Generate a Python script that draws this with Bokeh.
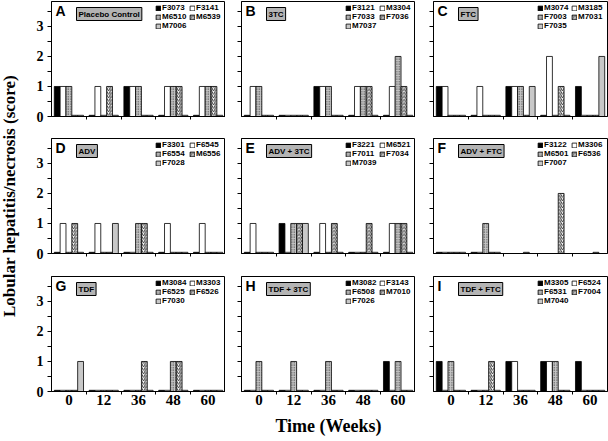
import numpy as np
from bokeh.plotting import figure
from bokeh.layouts import gridplot, row
from bokeh.models import Range1d, FixedTicker, Label, Legend, LegendItem, ColumnDataSource
from bokeh.core.properties import value
from bokeh.embed import file_html
from bokeh.resources import INLINE

# ---------------- data ----------------
weeks = ["0", "12", "36", "48", "60"]

A_group = "Placebo Control"
A_animals = ["F3073", "F3141", "M6510", "M6539", "M7006"]
A_scores = [[1, 0, 1, 0, 0], [1, 1, 1, 1, 1], [1, 0, 1, 1, 1], [0, 1, 0, 1, 1], [0, 0, 0, 0, 0]]

B_group = "3TC"
B_animals = ["F3121", "M3304", "F7033", "F7036", "M7037"]
B_scores = [[0, 0, 1, 0, 0], [1, 0, 1, 1, 1], [1, 0, 1, 1, 2], [0, 0, 0, 1, 1], [0, 0, 0, 0, 0]]

C_group = "FTC"
C_animals = ["M3074", "M3185", "F7003", "M7031", "F7035"]
C_scores = [[1, 0, 1, 0, 1], [1, 1, 1, 2, 0], [0, 0, 1, 0, 0], [0, 0, 0, 1, 0], [0, 0, 1, 0, 2]]

D_group = "ADV"
D_animals = ["F3301", "F6545", "F6554", "M6556", "F7028"]
D_scores = [[0, 0, 0, 0, 0], [1, 1, 0, 1, 1], [0, 0, 1, 0, 0], [1, 0, 1, 0, 0], [0, 1, 0, 0, 0]]

E_group = "ADV + 3TC"
E_animals = ["F3221", "M6521", "F7011", "F7034", "M7039"]
E_scores = [[0, 1, 0, 0, 0], [1, 0, 1, 0, 1], [0, 1, 0, 0, 1], [0, 1, 1, 1, 1], [0, 1, 0, 0, 0]]

F_group = "ADV + FTC"
F_animals = ["F3122", "M3306", "M6501", "F6536", "F7007"]
F_scores = [[0, 0, None, None, None], [0, 0, None, None, None], [0, 1, None, None, None],
            [0, 0, 0, 2, 0], [0, 0, None, None, None]]

G_group = "TDF"
G_animals = ["M3084", "M3303", "F6525", "F6526", "F7030"]
G_scores = [[0, 0, 0, 0, 0], [0, 0, 0, 0, 0], [0, 0, 0, 1, 0], [0, 0, 1, 1, 0], [1, 0, 0, 0, 0]]

H_group = "TDF + 3TC"
H_animals = ["M3082", "F3143", "F6508", "M7010", "F7026"]
H_scores = [[0, 0, 0, 0, 1], [0, 0, 0, 0, 0], [1, 1, 1, 0, 1], [0, 0, 0, 0, 0], [0, 0, 0, 0, 0]]

I_group = "TDF + FTC"
I_animals = ["M3305", "F6524", "F6531", "F7004", "M7040"]
I_scores = [[1, 0, 1, 1, 1], [0, 0, 1, 1, 0], [1, 0, 0, 1, 0], [0, 1, 0, 0, 0], [0, 0, 0, 0, 0]]

panels = [
    ("A", A_group, A_animals, A_scores), ("B", B_group, B_animals, B_scores), ("C", C_group, C_animals, C_scores),
    ("D", D_group, D_animals, D_scores), ("E", E_group, E_animals, E_scores), ("F", F_group, F_animals, F_scores),
    ("G", G_group, G_animals, G_scores), ("H", H_group, H_animals, H_scores), ("I", I_group, I_animals, I_scores),
]

y_ticks = [0, 1, 2, 3]
y_minor = [0.5, 1.5, 2.5, 3.5]
x_bounds = [0.5, 1.5, 2.5, 3.5]

# ---------------- styles ----------------
styles = [
    dict(fill_color="black"),
    dict(fill_color="white"),
    dict(fill_color="#c4c4c4", hatch_pattern=value("dot"), hatch_color="#333333", hatch_scale=2.5, hatch_weight=1),
    dict(fill_color="white", hatch_pattern=value("right_diagonal_line"), hatch_color="black", hatch_scale=3.5, hatch_weight=0.8),
    dict(fill_color="#c8c8c8"),
]

FW, FH = 174, 115
YTOP = 3.83
PXX = FW / 5.0
PXY = FH / YTOP
BW = 0.168
offsets = (np.arange(5) - 2) * BW
STUB = 0.04

SANS = "Liberation Sans"
SERIF = "Liberation Serif"

LAB_W = 24
row_top = [1, 0, 0]
row_bottom = [22, 23, 50]
col_left = [27, 16, 18]
col_right = [0, 0, 1]

figs = []
for k, (letter, group, animals, scores) in enumerate(panels):
    r, c = divmod(k, 3)
    W = col_left[c] + FW + col_right[c]
    H = row_top[r] + FH + row_bottom[r]
    p = figure(width=W, height=H, x_range=Range1d(-0.5, 4.5), y_range=Range1d(0, YTOP),
               output_backend="svg", toolbar_location=None,
               min_border_left=col_left[c], min_border_right=col_right[c],
               min_border_top=row_top[r], min_border_bottom=row_bottom[r])
    p.xgrid.visible = False
    p.ygrid.visible = False
    p.outline_line_color = "black"
    p.outline_line_width = 1

    rends = []
    for s in range(5):
        xs, tops, vals = [], [], []
        for i, v in enumerate(scores[s]):
            if v is None:
                continue
            xs.append(i + offsets[s])
            vals.append(v)
            tops.append(max(v, STUB))
        src = ColumnDataSource(dict(x=xs, top=tops, score=vals))
        rr = p.vbar(x="x", top="top", bottom=0, width=BW, source=src,
                    line_color="black", line_width=0.8, **styles[s])
        rends.append(rr)

    # x axis
    xa = p.xaxis[0]
    if r == 2:
        xa.ticker = FixedTicker(ticks=list(range(len(weeks))), minor_ticks=x_bounds)
        xa.major_label_overrides = {i: w for i, w in enumerate(weeks)}
    else:
        xa.ticker = FixedTicker(ticks=[], minor_ticks=x_bounds)
    xa.major_tick_line_color = None
    xa.major_tick_out = 3
    xa.major_tick_in = 0
    xa.minor_tick_in = 0
    xa.minor_tick_out = 3
    xa.minor_tick_line_color = "black"
    xa.axis_line_color = "black"
    xa.major_label_standoff = 0
    xa.major_label_text_font = SERIF
    xa.major_label_text_font_style = "bold"
    xa.major_label_text_color = "black"
    xa.major_label_text_font_size = "15px"
    if k == 7:
        xa.axis_label = "Time (Weeks)"
        xa.axis_label_text_font = SERIF
        xa.axis_label_text_font_style = "bold"
        xa.axis_label_text_font_size = "18px"
        xa.axis_label_text_color = "black"
        xa.axis_label_standoff = 8

    # y axis
    ya = p.yaxis[0]
    if c == 0:
        ya.ticker = FixedTicker(ticks=y_ticks, minor_ticks=y_minor)
    else:
        ya.ticker = FixedTicker(ticks=[], minor_ticks=sorted(y_ticks[1:] + y_minor))
    ya.major_tick_in = 0
    ya.major_tick_out = 4
    ya.minor_tick_in = 0
    ya.minor_tick_out = 4
    ya.major_tick_line_color = "black"
    ya.minor_tick_line_color = "black"
    ya.axis_line_color = "black"
    ya.major_label_standoff = 4
    ya.major_label_text_font = SERIF
    ya.major_label_text_font_style = "bold"
    ya.major_label_text_color = "black"
    ya.major_label_text_font_size = "14px"

    # panel letter
    p.add_layout(Label(x=-0.5 + 4 / PXX, y=YTOP - 1.5 / PXY, text=letter, text_align="left",
                       text_baseline="top", text_font=SANS, text_font_style="bold",
                       text_font_size="14px", text_color="black"))
    # group box
    p.add_layout(Label(x=-0.5 + 25 / PXX, y=YTOP - 6 / PXY, text=group, text_align="left",
                       text_baseline="top", text_font=SANS, text_font_style="bold",
                       text_font_size="8px", text_color="black",
                       background_fill_color="#b4b4b4", border_line_color="black",
                       border_line_width=1, padding=2))

    # legend
    items = [LegendItem(label=animals[s], renderers=[rends[s]]) for s in range(5)]
    leg = Legend(items=items, location="top_right", orientation="horizontal", ncols=2,
                 label_text_font=SANS, label_text_font_style="bold", label_text_font_size="8px",
                 label_text_color="black", label_text_line_height=0.85,
                 glyph_width=6, glyph_height=6, label_height=6, label_standoff=1,
                 label_width=27, spacing=0, padding=0, margin=2,
                 background_fill_alpha=0, border_line_alpha=0)
    p.add_layout(leg)
    figs.append(p)

grid = gridplot(figs, ncols=3, toolbar_location=None)

TOTAL_H = sum(row_top) + 3 * FH + sum(row_bottom)
lab = figure(width=LAB_W, height=TOTAL_H, x_range=Range1d(0, 1), y_range=Range1d(0, TOTAL_H),
             x_axis_type=None, y_axis_type=None, toolbar_location=None, output_backend="svg",
             min_border=0, outline_line_color=None)
lab.xgrid.visible = False
lab.ygrid.visible = False
ycenter = TOTAL_H - (row_top[0] + FH + row_bottom[0] + row_top[1] + FH / 2)
lab.add_layout(Label(x=0.38, y=ycenter, text="Lobular hepatitis/necrosis (score)", angle=np.pi / 2,
                     text_align="center", text_baseline="middle", text_font=SERIF,
                     text_font_style="bold", text_font_size="17px", text_color="black"))

layout = row(lab, grid)
open("out.html", "w").write(file_html(layout, INLINE))
